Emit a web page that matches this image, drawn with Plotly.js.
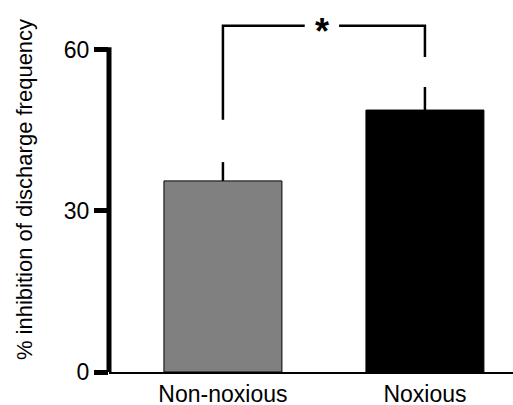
<!DOCTYPE html>
<html>
<head>
<meta charset="utf-8">
<script src="https://cdn.plot.ly/plotly-3.0.1.min.js"></script>
<style>html,body{margin:0;padding:0;background:#fff;}#chart{width:513px;height:405px;}</style>
</head>
<body>
<div id="chart"></div>
<script>
const categories = ["Non-noxious", "Noxious"];
const means = [35.6, 48.8];
const semUpper = [3.5, 4.3];
const barColors = ["#808080", "#000000"];
const yTicks = [0, 30, 60];
const bracketX = [0, 0, 0.405, null, 0.575, 1, 1];
const bracketY = [47.0, 64.5, 64.5, null, 64.5, 64.5, 58.7];
const sigLabel = "*";
const sigX = 0.49;
const sigY = 64.5;
const yTitle = "% inhibition of discharge frequency";

const catIdx = categories.map((c, i) => i);
const font = "Liberation Sans, Arial, sans-serif";

const traces = [
  {
    type: "bar",
    x: catIdx,
    y: means,
    width: 0.584,
    marker: { color: barColors, line: { color: "#000", width: 1 } },
    error_y: { type: "data", symmetric: false, array: semUpper, arrayminus: [0, 0], thickness: 2.5, width: 0, color: "#000" },
    hoverinfo: "skip"
  },
  {
    type: "scatter",
    mode: "lines",
    x: bracketX,
    y: bracketY,
    line: { color: "#000", width: 2.5 },
    connectgaps: false,
    hoverinfo: "skip"
  }
];

const layout = {
  width: 513,
  height: 405,
  margin: { l: 109, r: 0, t: 7, b: 33 },
  paper_bgcolor: "#fff",
  plot_bgcolor: "#fff",
  showlegend: false,
  font: { family: font, color: "#000" },
  xaxis: {
    type: "linear",
    range: [-0.564, 1.436],
    tickvals: catIdx,
    ticktext: categories,
    ticks: "",
    showgrid: false,
    zeroline: false,
    showline: true,
    linecolor: "#000",
    linewidth: 2,
    tickfont: { size: 23, family: font, color: "#000" },
    fixedrange: true
  },
  yaxis: {
    range: [0, 68],
    tickvals: yTicks,
    ticks: "outside",
    ticklen: 14,
    tickwidth: 5,
    tickcolor: "#000",
    showgrid: false,
    zeroline: false,
    showline: false,
    automargin: false,
    tickfont: { size: 23, family: font, color: "#000" },
    title: { text: yTitle, font: { size: 22, family: font, color: "#000" }, standoff: 25 },
    fixedrange: true
  },
  shapes: [
    { type: "line", xref: "paper", yref: "y", x0: 0, x1: 0, y0: 0, y1: 60.5, line: { color: "#000", width: 5 }, layer: "above" }
  ],
  annotations: [
    { x: sigX, y: sigY, xref: "x", yref: "y", text: "<b>" + sigLabel + "</b>", showarrow: false, font: { size: 36, family: font, color: "#000" }, yshift: -6 }
  ]
};

Plotly.newPlot("chart", traces, layout, { displayModeBar: false, staticPlot: true });
</script>
</body>
</html>
